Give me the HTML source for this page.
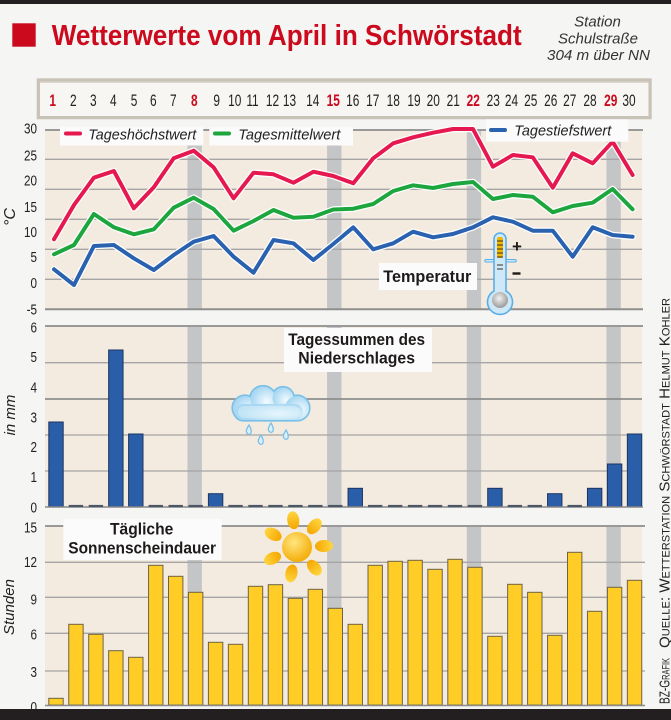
<!DOCTYPE html>
<html>
<head>
<meta charset="utf-8">
<style>
html,body{margin:0;padding:0;background:#f5f5f4;}
svg{display:block;}
text{font-family:"Liberation Sans",sans-serif;}
</style>
</head>
<body>
<svg width="671" height="720" viewBox="0 0 671 720" xmlns="http://www.w3.org/2000/svg">
<defs>
<radialGradient id="sunBody" cx="0.4" cy="0.35" r="0.7">
<stop offset="0" stop-color="#ffe680"/><stop offset="1" stop-color="#f3a900"/>
</radialGradient>
<linearGradient id="ray" x1="0" y1="0" x2="0" y2="1">
<stop offset="0" stop-color="#ffd640"/><stop offset="1" stop-color="#f4a600"/>
</linearGradient>
<radialGradient id="cloudG" cx="0.65" cy="0.6" r="0.6">
<stop offset="0" stop-color="#f4fbff"/><stop offset="1" stop-color="#a9d8f2"/>
</radialGradient>
<radialGradient id="bulbG" cx="0.45" cy="0.4" r="0.6">
<stop offset="0" stop-color="#f2f2f2"/><stop offset="1" stop-color="#9a9a9a"/>
</radialGradient>
</defs>

<rect x="0" y="0" width="671" height="720" fill="#f5f5f4"/>
<rect x="0" y="0" width="671" height="4" fill="#231f20"/>
<rect x="0" y="709" width="671" height="11" fill="#231f20"/>

<!-- Title -->
<rect x="12.3" y="23.3" width="23.4" height="23.4" fill="#cc0a1e"/>
<text x="51.7" y="45" font-size="29" font-weight="bold" fill="#cc0a1e" textLength="470" lengthAdjust="spacingAndGlyphs">Wetterwerte vom April in Schwörstadt</text>
<g font-style="italic" font-size="15" fill="#333" text-anchor="middle">
<text x="597.5" y="26.5">Station</text>
<text x="598" y="43.3" textLength="80" lengthAdjust="spacingAndGlyphs">Schulstraße</text>
<text x="598.5" y="60" textLength="103" lengthAdjust="spacingAndGlyphs">304 m über NN</text>
</g>

<!-- Day row frame -->
<rect x="36.7" y="78.3" width="615" height="41" fill="#c9c2b6"/>
<rect x="40" y="81.5" width="608.5" height="34.5" fill="#f7f6f3"/>
<rect x="40" y="81.5" width="608.5" height="1.5" fill="#dcd6cc"/>
<g font-size="17" fill="#222" text-anchor="middle">
<text transform="translate(52.7,106) scale(0.7,1)" fill="#cc0a1e" font-weight="bold">1</text>
<text transform="translate(73.3,106) scale(0.7,1)">2</text>
<text transform="translate(93.3,106) scale(0.7,1)">3</text>
<text transform="translate(113.3,106) scale(0.7,1)">4</text>
<text transform="translate(134,106) scale(0.7,1)">5</text>
<text transform="translate(153.3,106) scale(0.7,1)">6</text>
<text transform="translate(173.3,106) scale(0.7,1)">7</text>
<text transform="translate(194.3,106) scale(0.7,1)" fill="#cc0a1e" font-weight="bold">8</text>
<text transform="translate(216.7,106) scale(0.7,1)">9</text>
<text transform="translate(234.7,106) scale(0.7,1)">10</text>
<text transform="translate(252.5,106) scale(0.7,1)">11</text>
<text transform="translate(272.5,106) scale(0.7,1)">12</text>
<text transform="translate(289.5,106) scale(0.7,1)">13</text>
<text transform="translate(312.7,106) scale(0.7,1)">14</text>
<text transform="translate(333.3,106) scale(0.7,1)" fill="#cc0a1e" font-weight="bold">15</text>
<text transform="translate(352.7,106) scale(0.7,1)">16</text>
<text transform="translate(372.7,106) scale(0.7,1)">17</text>
<text transform="translate(393.3,106) scale(0.7,1)">18</text>
<text transform="translate(414,106) scale(0.7,1)">19</text>
<text transform="translate(433.3,106) scale(0.7,1)">20</text>
<text transform="translate(453.3,106) scale(0.7,1)">21</text>
<text transform="translate(473.3,106) scale(0.7,1)" fill="#cc0a1e" font-weight="bold">22</text>
<text transform="translate(493.3,106) scale(0.7,1)">23</text>
<text transform="translate(511.5,106) scale(0.7,1)">24</text>
<text transform="translate(530.7,106) scale(0.7,1)">25</text>
<text transform="translate(550.7,106) scale(0.7,1)">26</text>
<text transform="translate(569.8,106) scale(0.7,1)">27</text>
<text transform="translate(590,106) scale(0.7,1)">28</text>
<text transform="translate(610.7,106) scale(0.7,1)" fill="#cc0a1e" font-weight="bold">29</text>
<text transform="translate(629,106) scale(0.7,1)">30</text>
</g>

<!-- ===== Temperature chart ===== -->
<rect x="45" y="130" width="597" height="179.3" fill="#f4ebe0"/>
<g fill="#c4c5c7">
<rect x="187.45" y="130" width="14.4" height="179.3"/>
<rect x="327.1" y="130" width="14.4" height="179.3"/>
<rect x="466.75" y="130" width="14.4" height="179.3"/>
<rect x="606.4" y="130" width="14.4" height="179.3"/>
</g>
<g stroke="#a5a5a5" stroke-width="1.3">
<line x1="45" y1="159.3" x2="642" y2="159.3"/>
<line x1="45" y1="189.3" x2="642" y2="189.3"/>
<line x1="45" y1="219.3" x2="642" y2="219.3"/>
<line x1="45" y1="249.3" x2="642" y2="249.3"/>
<line x1="45" y1="279.3" x2="642" y2="279.3"/>
</g>
<line x1="45" y1="130" x2="643" y2="130" stroke="#999" stroke-width="2"/>
<line x1="45" y1="309.3" x2="643" y2="309.3" stroke="#8e8e8e" stroke-width="2"/>

<g font-size="15" fill="#222" text-anchor="end">
<text transform="translate(37,133.5) scale(0.78,1)">30</text>
<text transform="translate(37,160.5) scale(0.78,1)">25</text>
<text transform="translate(37,185.5) scale(0.78,1)">20</text>
<text transform="translate(37,212) scale(0.78,1)">15</text>
<text transform="translate(37,237) scale(0.78,1)">10</text>
<text transform="translate(37,262) scale(0.78,1)">5</text>
<text transform="translate(37,288) scale(0.78,1)">0</text>
<text transform="translate(37,314.5) scale(0.78,1)">-5</text>
</g>
<text transform="translate(15,217) rotate(-90)" font-size="16" font-style="italic" fill="#222" text-anchor="middle">°C</text>

<g fill="none" stroke-linejoin="round" stroke-linecap="round">
<polyline stroke="#ffffff" stroke-width="6.5" points="54,239.3 74,205 93.9,177.7 113.9,171 133.8,208.3 153.8,187.3 173.7,158.3 193.7,150.7 213.6,167.3 233.6,198.3 253.5,172.7 273.5,174.3 293.4,182.7 313.4,171.7 333.3,176 353.3,183.3 373.2,158.3 393.2,143.3 413.1,137.3 433.1,132.7 453,129 473,129 492.9,166.7 512.9,155 532.8,157.3 552.8,187.7 572.7,153.3 592.7,163.3 612.6,141.7 632.6,175"/>
<polyline stroke="#ffffff" stroke-width="6.5" points="54,254.3 74,245 93.9,214 113.9,227.3 133.8,234.3 153.8,229.3 173.7,207.7 193.7,197.7 213.6,209 233.6,230.7 253.5,221 273.5,210 293.4,217.7 313.4,216.7 333.3,209.5 353.3,208.7 373.2,204 393.2,191 413.1,185.3 433.1,188 453,184 473,182 492.9,199 512.9,195 532.8,196.7 552.8,212.3 572.7,206 592.7,202.7 612.6,189 632.6,209.3"/>
<polyline stroke="#ffffff" stroke-width="6.5" points="54,269.3 74,285 93.9,246 113.9,245 133.8,258.3 153.8,270 173.7,255 193.7,241.7 213.6,236 233.6,256.7 253.5,272.7 273.5,240 293.4,243.3 313.4,260 333.3,244 353.3,227.3 373.2,249.3 393.2,243.3 413.1,231.7 433.1,237.3 453,234 473,227.3 492.9,217.3 512.9,221.7 532.8,230.7 552.8,230.7 572.7,256.7 592.7,227.3 612.6,235 632.6,236.7"/>
<polyline stroke="#e5194f" stroke-width="4" points="54,239.3 74,205 93.9,177.7 113.9,171 133.8,208.3 153.8,187.3 173.7,158.3 193.7,150.7 213.6,167.3 233.6,198.3 253.5,172.7 273.5,174.3 293.4,182.7 313.4,171.7 333.3,176 353.3,183.3 373.2,158.3 393.2,143.3 413.1,137.3 433.1,132.7 453,129 473,129 492.9,166.7 512.9,155 532.8,157.3 552.8,187.7 572.7,153.3 592.7,163.3 612.6,141.7 632.6,175"/>
<polyline stroke="#1ea63e" stroke-width="4" points="54,254.3 74,245 93.9,214 113.9,227.3 133.8,234.3 153.8,229.3 173.7,207.7 193.7,197.7 213.6,209 233.6,230.7 253.5,221 273.5,210 293.4,217.7 313.4,216.7 333.3,209.5 353.3,208.7 373.2,204 393.2,191 413.1,185.3 433.1,188 453,184 473,182 492.9,199 512.9,195 532.8,196.7 552.8,212.3 572.7,206 592.7,202.7 612.6,189 632.6,209.3"/>
<polyline stroke="#2a62b0" stroke-width="4" points="54,269.3 74,285 93.9,246 113.9,245 133.8,258.3 153.8,270 173.7,255 193.7,241.7 213.6,236 233.6,256.7 253.5,272.7 273.5,240 293.4,243.3 313.4,260 333.3,244 353.3,227.3 373.2,249.3 393.2,243.3 413.1,231.7 433.1,237.3 453,234 473,227.3 492.9,217.3 512.9,221.7 532.8,230.7 552.8,230.7 572.7,256.7 592.7,227.3 612.6,235 632.6,236.7"/>
</g>

<!-- Legend -->
<rect x="60" y="127" width="143.3" height="18.5" fill="#fbfbfb"/>
<rect x="209.3" y="127" width="143.7" height="18.5" fill="#fbfbfb"/>
<rect x="486" y="119.3" width="142.3" height="22.4" fill="#fbfbfb"/>
<line x1="66" y1="133.5" x2="80" y2="133.5" stroke="#e5194f" stroke-width="4" stroke-linecap="round"/>
<line x1="215" y1="133.5" x2="229" y2="133.5" stroke="#1ea63e" stroke-width="4" stroke-linecap="round"/>
<line x1="491" y1="130" x2="505" y2="130" stroke="#2a62b0" stroke-width="4" stroke-linecap="round"/>
<g font-size="15" font-style="italic" fill="#222">
<text x="88.3" y="139.3" textLength="108" lengthAdjust="spacingAndGlyphs">Tageshöchstwert</text>
<text x="238.3" y="139.3" textLength="102" lengthAdjust="spacingAndGlyphs">Tagesmittelwert</text>
<text x="514.3" y="135.7" textLength="97" lengthAdjust="spacingAndGlyphs">Tagestiefstwert</text>
</g>

<rect x="379" y="263" width="98" height="27" fill="#fbfbfb"/>
<text x="383.3" y="282" font-size="17" font-weight="bold" fill="#1e1a1a" textLength="88" lengthAdjust="spacingAndGlyphs">Temperatur</text>

<!-- Thermometer -->
<g>
<line x1="486" y1="260.7" x2="515" y2="260.7" stroke="#5aaee6" stroke-width="3.5" stroke-linecap="round"/>
<line x1="486" y1="260.7" x2="515" y2="260.7" stroke="#cfe8f7" stroke-width="1.5" stroke-linecap="round"/>
<path d="M494,291 L494,239 A6,6 0 0 1 506,239 L506,291 A12.5,12.5 0 1 1 494,291 Z" fill="#cfe8f7" stroke="#5aaee6" stroke-width="1.6"/>
<rect x="497" y="237" width="6" height="21" rx="2" fill="#f3b600"/>
<g stroke="#3b3020" stroke-width="1">
<line x1="497" y1="241" x2="503" y2="241"/>
<line x1="497" y1="245" x2="503" y2="245"/>
<line x1="497" y1="249" x2="503" y2="249"/>
<line x1="497" y1="253" x2="503" y2="253"/>
<line x1="497" y1="257" x2="503" y2="257"/>
<line x1="497" y1="265" x2="503" y2="265"/>
<line x1="497" y1="269" x2="503" y2="269"/>
</g>
<circle cx="500" cy="300" r="8" fill="url(#bulbG)"/>
<text x="517" y="252" font-size="17" font-weight="bold" fill="#1e1a1a" text-anchor="middle">+</text>
<rect x="512.5" y="272.3" width="8" height="2.4" fill="#1e1a1a"/>
</g>

<!-- ===== Precipitation chart ===== -->
<rect x="45" y="326" width="597" height="180.7" fill="#f4ebe0"/>
<g fill="#c4c5c7">
<rect x="187.45" y="326" width="14.4" height="180.7"/>
<rect x="327.1" y="326" width="14.4" height="180.7"/>
<rect x="466.75" y="326" width="14.4" height="180.7"/>
<rect x="606.4" y="326" width="14.4" height="180.7"/>
</g>
<g stroke="#a5a5a5" stroke-width="1.3">
<line x1="45" y1="362.7" x2="642" y2="362.7"/>
<line x1="45" y1="435" x2="642" y2="435"/>
<line x1="45" y1="471" x2="642" y2="471"/>
</g>
<line x1="45" y1="399" x2="642" y2="399" stroke="#8e8e8e" stroke-width="1.8"/>
<line x1="45" y1="326" x2="643" y2="326" stroke="#999" stroke-width="2"/>

<g font-size="15" fill="#222" text-anchor="end">
<text transform="translate(37,332.5) scale(0.78,1)">6</text>
<text transform="translate(37,362) scale(0.78,1)">5</text>
<text transform="translate(37,392.5) scale(0.78,1)">4</text>
<text transform="translate(37,422.5) scale(0.78,1)">3</text>
<text transform="translate(37,452) scale(0.78,1)">2</text>
<text transform="translate(37,482) scale(0.78,1)">1</text>
<text transform="translate(37,512.5) scale(0.78,1)">0</text>
</g>
<text transform="translate(15,415) rotate(-90)" font-size="15" font-style="italic" fill="#222" text-anchor="middle">in mm</text>

<g fill="#2a5ea8" stroke="#1c3560" stroke-width="1">
<rect x="48.8" y="422" width="14.4" height="84.7"/>
<rect x="108.65" y="350" width="14.4" height="156.7"/>
<rect x="128.6" y="434" width="14.4" height="72.7"/>
<rect x="208.4" y="493.7" width="14.4" height="13"/>
<rect x="348.05" y="488.3" width="14.4" height="18.4"/>
<rect x="487.7" y="488.3" width="14.4" height="18.4"/>
<rect x="547.55" y="493.7" width="14.4" height="13"/>
<rect x="587.45" y="488.3" width="14.4" height="18.4"/>
<rect x="607.4" y="464" width="14.4" height="42.7"/>
<rect x="627.35" y="434" width="14.4" height="72.7"/>
</g>
<line x1="45" y1="507" x2="643" y2="507" stroke="#8a8a8a" stroke-width="1.6"/>
<g stroke="#4c5766" stroke-width="2.2">
<line x1="68.75" y1="506" x2="83.15" y2="506"/>
<line x1="88.7" y1="506" x2="103.1" y2="506"/>
<line x1="148.55" y1="506" x2="162.95" y2="506"/>
<line x1="168.5" y1="506" x2="182.9" y2="506"/>
<line x1="188.45" y1="506" x2="202.85" y2="506"/>
<line x1="228.35" y1="506" x2="242.75" y2="506"/>
<line x1="248.3" y1="506" x2="262.7" y2="506"/>
<line x1="268.25" y1="506" x2="282.65" y2="506"/>
<line x1="288.2" y1="506" x2="302.6" y2="506"/>
<line x1="308.15" y1="506" x2="322.55" y2="506"/>
<line x1="328.1" y1="506" x2="342.5" y2="506"/>
<line x1="368" y1="506" x2="382.4" y2="506"/>
<line x1="387.95" y1="506" x2="402.35" y2="506"/>
<line x1="407.9" y1="506" x2="422.3" y2="506"/>
<line x1="427.85" y1="506" x2="442.25" y2="506"/>
<line x1="447.8" y1="506" x2="462.2" y2="506"/>
<line x1="467.75" y1="506" x2="482.15" y2="506"/>
<line x1="507.65" y1="506" x2="522.05" y2="506"/>
<line x1="527.6" y1="506" x2="542" y2="506"/>
<line x1="567.5" y1="506" x2="581.9" y2="506"/>
</g>

<rect x="284" y="328" width="148" height="44" fill="#fbfbfb"/>
<g font-size="17" font-weight="bold" fill="#1e1a1a">
<text x="288.3" y="345" textLength="136.7" lengthAdjust="spacingAndGlyphs">Tagessummen des</text>
<text x="298.3" y="363.3" textLength="116.7" lengthAdjust="spacingAndGlyphs">Niederschlages</text>
</g>

<!-- Cloud -->
<g stroke="#79c0e8" stroke-width="3.2">
<circle cx="245" cy="408" r="12"/>
<circle cx="263" cy="399" r="12.5"/>
<circle cx="283" cy="398" r="10.5"/>
<circle cx="297" cy="408" r="12"/>
<rect x="235" y="404" width="68" height="16" rx="8"/>
</g>
<g fill="url(#cloudG)">
<circle cx="245" cy="408" r="12"/>
<circle cx="263" cy="399" r="12.5"/>
<circle cx="283" cy="398" r="10.5"/>
<circle cx="297" cy="408" r="12"/>
<rect x="235" y="404" width="68" height="16" rx="8"/>
</g>
<rect x="238" y="406" width="62" height="12" rx="6" fill="#d8eff9" opacity="0.5"/>
<g fill="#dcf0fb" stroke="#79c0e8" stroke-width="1.3">
<path d="M249,425 Q245,431 247,433 Q249,436 251,433 Q252,430 249,425 Z"/>
<path d="M261,435 Q257,441 259,443 Q261,446 263,443 Q264,440 261,435 Z"/>
<path d="M271,423 Q267,429 269,431 Q271,434 273,431 Q274,428 271,423 Z"/>
<path d="M286,430 Q282,436 284,438 Q286,441 288,438 Q289,435 286,430 Z"/>
</g>

<!-- ===== Sunshine chart ===== -->
<rect x="45" y="526" width="597" height="179" fill="#f4ebe0"/>
<g fill="#c4c5c7">
<rect x="187.45" y="526" width="14.4" height="179"/>
<rect x="327.1" y="526" width="14.4" height="179"/>
<rect x="466.75" y="526" width="14.4" height="179"/>
<rect x="606.4" y="526" width="14.4" height="179"/>
</g>
<g stroke="#a5a5a5" stroke-width="1.3">
<line x1="45" y1="562.3" x2="645" y2="562.3"/>
<line x1="45" y1="597.3" x2="645" y2="597.3"/>
<line x1="45" y1="633.3" x2="645" y2="633.3"/>
<line x1="45" y1="671" x2="645" y2="671"/>
</g>
<line x1="45" y1="526" x2="645" y2="526" stroke="#999" stroke-width="2"/>

<g font-size="15" fill="#222" text-anchor="end">
<text transform="translate(37,532.5) scale(0.78,1)">15</text>
<text transform="translate(37,567) scale(0.78,1)">12</text>
<text transform="translate(37,604.5) scale(0.78,1)">9</text>
<text transform="translate(37,639.5) scale(0.78,1)">6</text>
<text transform="translate(37,677) scale(0.78,1)">3</text>
<text transform="translate(37,712) scale(0.78,1)">0</text>
</g>
<text transform="translate(14,607) rotate(-90)" font-size="15" font-style="italic" fill="#222" text-anchor="middle">Stunden</text>

<g fill="#ffcd26" stroke="#6e6345" stroke-width="1">
<rect x="48.8" y="698.3" width="14.4" height="6.7"/>
<rect x="68.75" y="624.3" width="14.4" height="80.7"/>
<rect x="88.7" y="634.3" width="14.4" height="70.7"/>
<rect x="108.65" y="650.7" width="14.4" height="54.3"/>
<rect x="128.6" y="657.3" width="14.4" height="47.7"/>
<rect x="148.55" y="565.3" width="14.4" height="139.7"/>
<rect x="168.5" y="576.3" width="14.4" height="128.7"/>
<rect x="188.45" y="592.3" width="14.4" height="112.7"/>
<rect x="208.4" y="642.3" width="14.4" height="62.7"/>
<rect x="228.35" y="644.3" width="14.4" height="60.7"/>
<rect x="248.3" y="586.3" width="14.4" height="118.7"/>
<rect x="268.25" y="584.7" width="14.4" height="120.3"/>
<rect x="288.2" y="598.3" width="14.4" height="106.7"/>
<rect x="308.15" y="589.3" width="14.4" height="115.7"/>
<rect x="328.1" y="608.3" width="14.4" height="96.7"/>
<rect x="348.05" y="624.3" width="14.4" height="80.7"/>
<rect x="368" y="565.3" width="14.4" height="139.7"/>
<rect x="387.95" y="561.3" width="14.4" height="143.7"/>
<rect x="407.9" y="560.3" width="14.4" height="144.7"/>
<rect x="427.85" y="569.3" width="14.4" height="135.7"/>
<rect x="447.8" y="559.3" width="14.4" height="145.7"/>
<rect x="467.75" y="567.3" width="14.4" height="137.7"/>
<rect x="487.7" y="636.3" width="14.4" height="68.7"/>
<rect x="507.65" y="584.3" width="14.4" height="120.7"/>
<rect x="527.6" y="592.3" width="14.4" height="112.7"/>
<rect x="547.55" y="635.3" width="14.4" height="69.7"/>
<rect x="567.5" y="552.3" width="14.4" height="152.7"/>
<rect x="587.45" y="611.3" width="14.4" height="93.7"/>
<rect x="607.4" y="587.3" width="14.4" height="117.7"/>
<rect x="627.35" y="580.3" width="14.4" height="124.7"/>
</g>
<line x1="45" y1="705.5" x2="645" y2="705.5" stroke="#8a8a8a" stroke-width="1.6"/>

<rect x="63.3" y="519" width="158.4" height="41" fill="#fbfbfb"/>
<g font-size="17" font-weight="bold" fill="#1e1a1a">
<text x="110" y="534.3" textLength="63.3" lengthAdjust="spacingAndGlyphs">Tägliche</text>
<text x="68.3" y="553.3" textLength="147.7" lengthAdjust="spacingAndGlyphs">Sonnenscheindauer</text>
</g>

<!-- Sun icon -->
<g transform="translate(297,547)">
<g fill="url(#ray)">
<ellipse cx="0" cy="-27" rx="6" ry="9" transform="rotate(-8)"/>
<ellipse cx="0" cy="-27" rx="6" ry="9" transform="rotate(40)"/>
<ellipse cx="0" cy="-27" rx="6" ry="9" transform="rotate(88)"/>
<ellipse cx="0" cy="-27" rx="6" ry="9" transform="rotate(140)"/>
<ellipse cx="0" cy="-27" rx="6" ry="9" transform="rotate(192)"/>
<ellipse cx="0" cy="-27" rx="6" ry="9" transform="rotate(245)"/>
<ellipse cx="0" cy="-27" rx="6" ry="9" transform="rotate(298)"/>
</g>
<circle cx="0" cy="0" r="15" fill="url(#sunBody)"/>
</g>

<!-- Source text (vertical) -->
<g font-family="Liberation Serif, serif" font-size="15" fill="#222" font-variant="small-caps">
<text transform="translate(669.5,704) rotate(-90)" textLength="46" lengthAdjust="spacingAndGlyphs">BZ-Grafik</text>
<text transform="translate(669.5,648) rotate(-90)" textLength="350" lengthAdjust="spacingAndGlyphs">Quelle: Wetterstation Schwörstadt Helmut Kohler</text>
</g>
</svg>
</body>
</html>
